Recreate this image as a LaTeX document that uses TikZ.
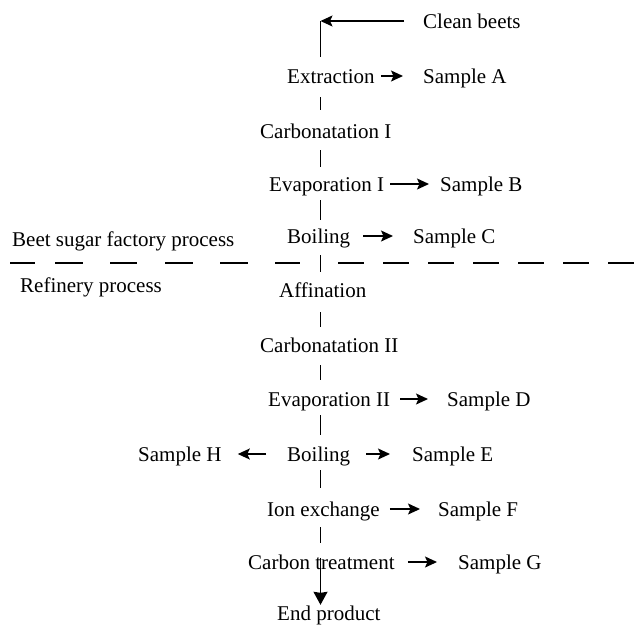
\documentclass[tikz,border=0pt]{standalone}
\usepackage{fontspec}
\setmainfont{Liberation Serif}
\usetikzlibrary{arrows.meta}
\begin{document}
\begin{tikzpicture}[x=1pt,y=-1pt,
  lbl/.style={anchor=base west, inner sep=0pt, text height=17pt, text depth=3pt, font=\fontsize{21}{25}\selectfont},
  conn/.style={line width=1.4pt},
  arr/.style={conn, -{Stealth[length=12pt,width=11pt,inset=2.5pt]}},
  downarr/.style={conn, -{Stealth[length=13pt,width=14pt,inset=1pt]}},
  divider/.style={line width=1.3pt}]
\useasboundingbox (0,0) rectangle (644,625);
\coordinate (spine) at (320.5,0);

% nodes
\node[lbl] (clean) at (423,28) {Clean beets};
\node[lbl] (ext) at (287,83) {Extraction};
\node[lbl] (sA) at (423,83) {Sample A};
\node[lbl] (carb1) at (260,138) {Carbonatation I};
\node[lbl] (evap1) at (269,191) {Evaporation I};
\node[lbl] (sB) at (440,191) {Sample B};
\node[lbl] (boil1) at (287,243) {Boiling};
\node[lbl] (sC) at (413,243) {Sample C};
\node[lbl] (beet) at (12,246) {Beet sugar factory process};
\node[lbl] (ref) at (20,292) {Refinery process};
\node[lbl] (aff) at (279,297) {Affination};
\node[lbl] (carb2) at (260,352) {Carbonatation II};
\node[lbl] (evap2) at (268,406) {Evaporation II};
\node[lbl] (sD) at (447,406) {Sample D};
\node[lbl] (sH) at (138,461) {Sample H};
\node[lbl] (boil2) at (287,461) {Boiling};
\node[lbl] (sE) at (412,461) {Sample E};
\node[lbl] (ion) at (267,516) {Ion exchange};
\node[lbl] (sF) at (438,516) {Sample F};
\node[lbl] (carbon) at (248,569) {Carbon treatment};
\node[lbl] (sG) at (458,569) {Sample G};
\node[lbl] (endp) at (277,620) {End product};

% feed
\coordinate (corner) at (clean.west -| spine);
\draw[arr, shorten <=19pt] (clean.west) -- (corner);
\draw[conn, shorten >=9pt] (corner) -- (ext.north -| spine);

% spine ticks
\draw[conn, shorten <=11pt, shorten >=11pt] (ext.south -| spine) -- (carb1.north -| spine);
\draw[conn, shorten <=9pt, shorten >=7pt] (carb1.south -| spine) -- (evap1.north -| spine);
\draw[conn, shorten <=6pt, shorten >=6pt] (evap1.south -| spine) -- (boil1.north -| spine);
\draw[conn, shorten <=9pt, shorten >=8pt] (boil1.south -| spine) -- (aff.north -| spine);
\draw[conn, shorten <=12pt, shorten >=8pt] (aff.south -| spine) -- (carb2.north -| spine);
\draw[conn, shorten <=10pt, shorten >=9pt] (carb2.south -| spine) -- (evap2.north -| spine);
\draw[conn, shorten <=6pt, shorten >=9pt] (evap2.south -| spine) -- (boil2.north -| spine);
\draw[conn, shorten <=6pt, shorten >=11pt] (boil2.south -| spine) -- (ion.north -| spine);
\draw[conn, shorten <=8pt, shorten >=9pt] (ion.south -| spine) -- (carbon.north -| spine);
\draw[downarr, shorten <=6pt, shorten >=-2pt] (carbon.north -| spine) -- (endp.north -| spine);

% sample arrows
\draw[arr, shorten <=6pt, shorten >=20pt] (ext.east) -- (sA.west);
\draw[arr, shorten <=6pt, shorten >=11pt] (evap1.east) -- (sB.west);
\draw[arr, shorten <=13pt, shorten >=20pt] (boil1.east) -- (sC.west);
\draw[arr, shorten <=10pt, shorten >=19pt] (evap2.east) -- (sD.west);
\draw[arr, shorten <=21pt, shorten >=16pt] (boil2.west) -- (sH.east);
\draw[arr, shorten <=16pt, shorten >=22pt] (boil2.east) -- (sE.west);
\draw[arr, shorten <=10pt, shorten >=18pt] (ion.east) -- (sF.west);
\draw[arr, shorten <=13pt, shorten >=21pt] (carbon.east) -- (sG.west);

% divider between the two processes
\draw[divider, dash pattern=on 25pt off 20pt on 28pt off 27pt on 27pt off 28pt on 28pt off 27pt on 28pt off 27pt on 25pt off 60pt] (10,263) -- (300,263);
\draw[divider, dash pattern=on 26pt off 19pt] (338,263) -- (644,263);
\end{tikzpicture}
\end{document}
